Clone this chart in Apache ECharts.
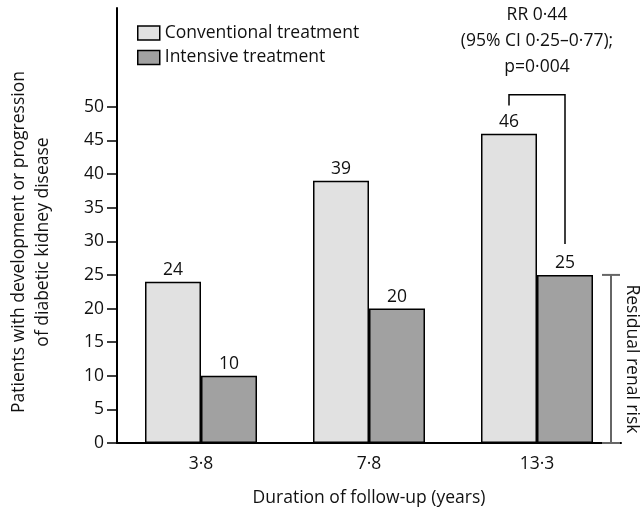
<!DOCTYPE html>
<html><head><meta charset="utf-8">
<script src="https://cdn.jsdelivr.net/npm/echarts@6/dist/echarts.min.js"></script>
<style>html,body{margin:0;padding:0;background:#fff}#c{width:640px;height:513px}</style>
</head><body><div id="c"></div>
<script>
const categories = ['3·8', '7·8', '13·3'];
const conventional = [24, 39, 46];
const intensive = [10, 20, 25];
const yTicks = [0, 5, 10, 15, 20, 25, 30, 35, 40, 45, 50];
const seriesNames = ['Conventional treatment', 'Intensive treatment'];
const xTitle = 'Duration of follow-up (years)';
const yTitle = ['Patients with development or progression', 'of diabetic kidney disease'];
const rrText = ['RR 0·44', '(95% CI 0·25–0·77);', 'p=0·004'];
const bracket = [2, 50.2, 51.8, 29.6]; // category index, left leg bottom, top, right leg bottom
const residual = [2, 0, 25]; // category index, from, to
const residualLabel = 'Residual renal risk';

const FONT = '"Open Sans", sans-serif';
const FS = 17.5;
const chart = echarts.init(document.getElementById('c'), null, {renderer: 'canvas'});
const BW = 56;
chart.setOption({
  animation: false,
  textStyle: {fontFamily: FONT},
  grid: {left: 117, right: 19, top: 8, bottom: 70, containLabel: false},
  legend: {
    data: seriesNames, orient: 'vertical', left: 137, top: 24, padding: 0,
    itemWidth: 22, itemHeight: 14, itemGap: 6.5,
    icon: 'rect',
    itemStyle: {borderColor: '#000', borderWidth: 1.5},
    textStyle: {fontFamily: FONT, fontSize: FS, color: '#111', padding: [0, 0, 0, 0]}
  },
  xAxis: {
    type: 'category', data: categories,
    axisLine: {lineStyle: {color: '#000', width: 2}},
    axisTick: {length: 10, lineStyle: {color: '#000', width: 1.5}},
    axisLabel: {fontFamily: FONT, fontSize: FS, color: '#111', margin: 12},
    name: xTitle, nameLocation: 'middle', nameGap: 46,
    nameTextStyle: {fontFamily: FONT, fontSize: FS, color: '#111'}
  },
  yAxis: {
    type: 'value', min: 0, max: 64.7,
    splitLine: {show: false},
    axisLine: {show: true, lineStyle: {color: '#000', width: 2}},
    axisTick: {show: true, length: 10, customValues: yTicks, lineStyle: {color: '#000', width: 1.5}},
    axisLabel: {fontFamily: FONT, fontSize: FS, color: '#111', margin: 13, customValues: yTicks}
  },
  series: [
    {
      name: seriesNames[0], type: 'bar', data: conventional, barWidth: BW, barGap: '0%',
      itemStyle: {color: '#e1e1e1', borderColor: '#000', borderWidth: 1.5},
      label: {show: true, position: 'top', distance: 3, fontFamily: FONT, fontSize: FS, color: '#111'}
    },
    {
      name: seriesNames[1], type: 'bar', data: intensive, barWidth: BW, barGap: '0%',
      itemStyle: {color: '#a1a1a1', borderColor: '#000', borderWidth: 1.5},
      label: {show: true, position: 'top', distance: 3, fontFamily: FONT, fontSize: FS, color: '#111'}
    },
    {
      type: 'custom', clip: false, silent: true, z: 5,
      data: [bracket],
      encode: {x: 0, y: 2},
      renderItem: function (params, api) {
        const idx = api.value(0);
        const yLB = api.coord([idx, api.value(1)])[1];
        const top = api.coord([idx, api.value(2)]);
        const yRB = api.coord([idx, api.value(3)])[1];
        const x1 = top[0] - BW / 2, x2 = top[0] + BW / 2;
        return {
          type: 'group', children: [
            {type: 'polyline', shape: {points: [[x1, yLB], [x1, top[1]], [x2, top[1]], [x2, yRB]]},
             style: {stroke: '#000', lineWidth: 1.5, fill: null}},
            ...rrText.map((t, i) => ({
              type: 'text', style: {text: t, x: top[0], y: 15 + i * 26, align: 'center', verticalAlign: 'middle',
                font: FS + 'px ' + FONT, fill: '#111'}
            }))
          ]
        };
      }
    },
    {
      type: 'custom', clip: false, silent: true, z: 5,
      data: [residual],
      encode: {x: 0, y: 2},
      renderItem: function (params, api) {
        const idx = api.value(0);
        const p0 = api.coord([idx, api.value(1)]);
        const p1 = api.coord([idx, api.value(2)]);
        const x = p0[0] + BW + 18;
        const cap = 9;
        return {
          type: 'group', children: [
            {type: 'line', shape: {x1: x, y1: p0[1], x2: x, y2: p1[1]}, style: {stroke: '#666', lineWidth: 2}},
            {type: 'line', shape: {x1: x - cap, y1: p0[1], x2: x + cap, y2: p0[1]}, style: {stroke: '#666', lineWidth: 2}},
            {type: 'line', shape: {x1: x - cap, y1: p1[1], x2: x + cap, y2: p1[1]}, style: {stroke: '#666', lineWidth: 2}},
            {type: 'text', x: x + 21, y: (p0[1] + p1[1]) / 2, rotation: -Math.PI / 2,
             style: {text: residualLabel, x: 0, y: 0, align: 'center', verticalAlign: 'middle', font: FS + 'px ' + FONT, fill: '#111'}}
          ]
        };
      }
    }
  ],
  graphic: [
    {type: 'text', x: 19, y: 242, rotation: Math.PI / 2,
     style: {text: yTitle[0], x: 0, y: 0, align: 'center', verticalAlign: 'middle', font: FS + 'px ' + FONT, fill: '#111'}},
    {type: 'text', x: 43, y: 242, rotation: Math.PI / 2,
     style: {text: yTitle[1], x: 0, y: 0, align: 'center', verticalAlign: 'middle', font: FS + 'px ' + FONT, fill: '#111'}}
  ]
});
</script>
</body></html>
